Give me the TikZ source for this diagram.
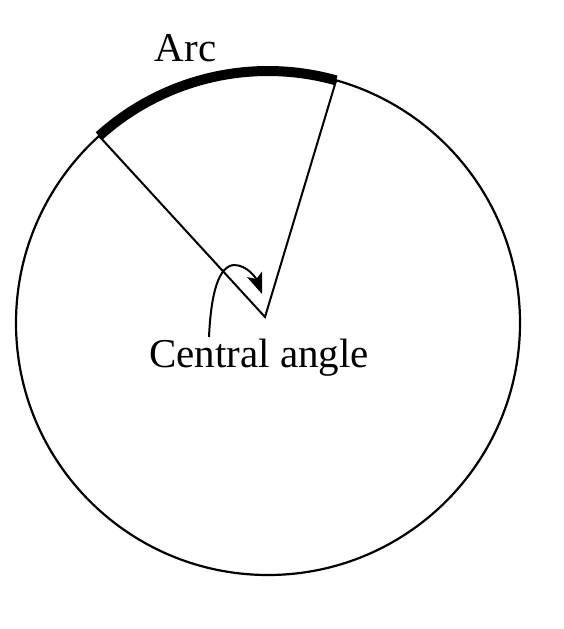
\documentclass[tikz,border=0pt]{standalone}
\usepackage{fontspec}
\setmainfont{Liberation Serif}
\usetikzlibrary{arrows.meta,calc}
\tikzset{
  rim/.style={line width=2.2pt},
  spoke/.style={line width=2pt},
  arcmark/.style={line width=10pt},
  lab/.style={font=\fontsize{41}{48}\selectfont, inner sep=0pt},
  turn/.style={line width=2pt, -{Stealth[length=21pt, width=16pt, inset=5pt]}},
}
\begin{document}
\begin{tikzpicture}[x=1pt, y=-1pt]
    \useasboundingbox (0,0) rectangle (563,629);
    \coordinate (O) at (268,323);
    \coordinate (V) at (265,317);
    \coordinate (A) at ($(O)+(132.1:252pt)$);
    \coordinate (B) at ($(O)+(74.3:252pt)$);
    % circle and the two radii
    \draw[rim] (O) circle (252pt);
    \draw[spoke] (A) -- (V) -- (B);
    % the arc between them
    \draw[arcmark] (A) arc[start angle=132.1, end angle=74.3, radius=252pt];
    \node[lab, anchor=base] (arclab) at (185.5,61) {Arc};
    % angle label with its arrow
    \node[lab, anchor=base] (anglelab) at (259,367) {Central angle};
    \coordinate (tail) at (209,337);
    \coordinate (tip) at (262,294);
    \draw[turn] (tail) .. controls (211,292) and (219,266) .. (234,265)
                       .. controls (247,265) and (256,278) .. (tip);
\end{tikzpicture}
\end{document}
